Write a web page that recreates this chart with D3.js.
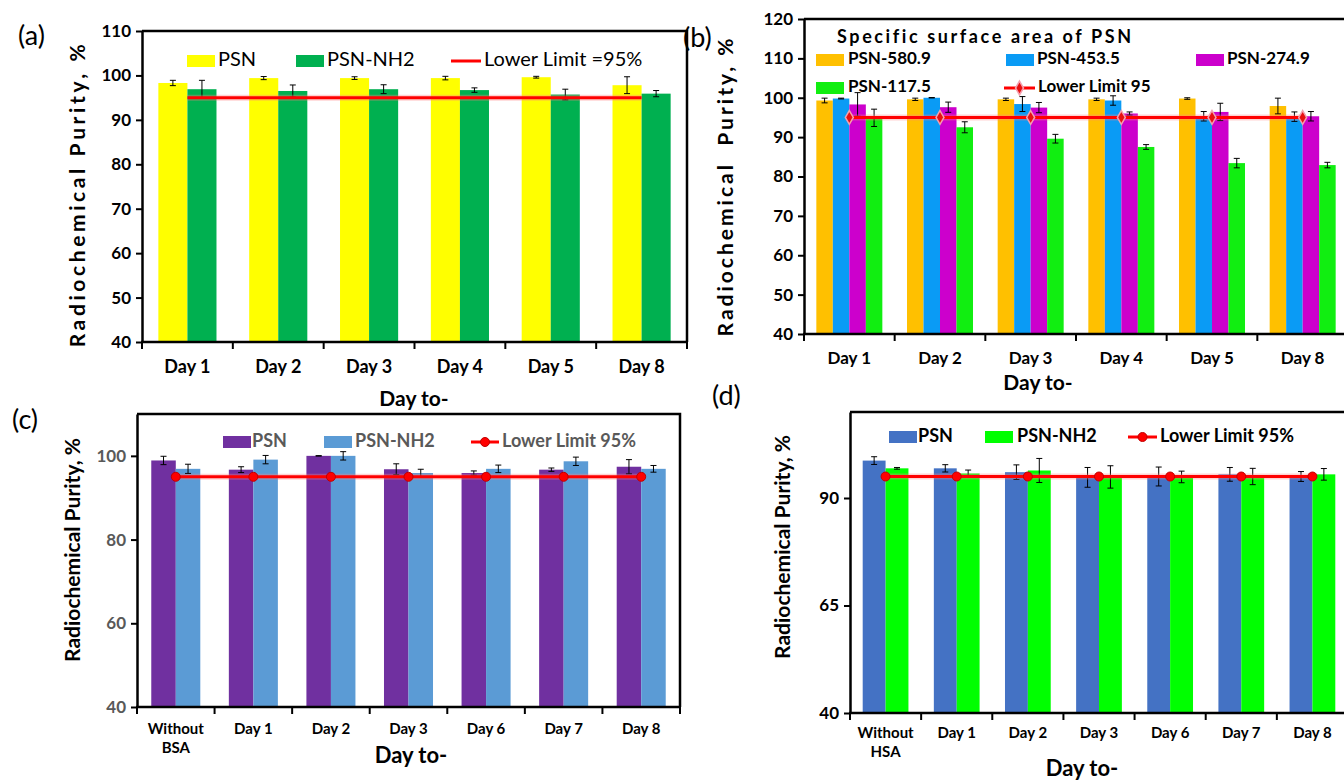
<!DOCTYPE html>
<html>
<head>
<meta charset="utf-8">
<script src="https://cdn.jsdelivr.net/npm/d3@7"></script>
<style>
body { margin: 0; background: #fff; }
text { font-family: Lato, 'Open Sans', sans-serif; }
</style>
</head>
<body>
<div id="chart"></div>
<script>
// ---- data ----
const daysA = ['Day 1', 'Day 2', 'Day 3', 'Day 4', 'Day 5', 'Day 8']
const psnA = [98.3, 99.4, 99.4, 99.4, 99.6, 97.8]
const psnAErr = [0.6, 0.35, 0.3, 0.4, 0.2, 1.9]
const nh2A = [96.9, 96.5, 96.9, 96.7, 95.7, 95.9]
const nh2AErr = [2.0, 1.35, 1.0, 0.5, 1.2, 0.7]

const daysB = ['Day 1', 'Day 2', 'Day 3', 'Day 4', 'Day 5', 'Day 8']
const psn580 = [99.3, 99.6, 99.6, 99.6, 99.8, 97.9]
const psn580Err = [0.6, 0.3, 0.3, 0.3, 0.2, 2.0]
const psn453 = [99.8, 100.0, 98.4, 99.3, 95.3, 95.2]
const psn453Err = [0.1, 0.05, 1.9, 1.2, 1.2, 1.2]
const psn274 = [98.3, 97.6, 97.5, 96.0, 96.4, 95.3]
const psn274Err = [3.0, 1.3, 1.3, 0.4, 2.2, 1.2]
const psn117 = [94.9, 92.5, 89.6, 87.5, 83.4, 82.9]
const psn117Err = [2.2, 1.4, 1.1, 0.6, 1.2, 0.7]

const catsC = ['Without BSA', 'Day 1', 'Day 2', 'Day 3', 'Day 6', 'Day 7', 'Day 8']
const psnC = [98.9, 96.7, 100.0, 96.8, 95.9, 96.7, 97.4]
const psnCErr = [1.0, 0.7, 0.05, 1.3, 0.5, 0.4, 1.7]
const nh2C = [96.9, 99.1, 100.0, 95.9, 96.9, 98.7, 96.9]
const nh2CErr = [1.1, 1.0, 1.0, 0.9, 0.9, 1.0, 0.8]

const catsD = ['Without HSA', 'Day 1', 'Day 2', 'Day 3', 'Day 6', 'Day 7', 'Day 8']
const psnD = [98.7, 96.9, 96.0, 94.8, 95.0, 95.5, 95.0]
const psnDErr = [0.9, 0.85, 1.7, 2.3, 2.2, 1.6, 1.15]
const nh2D = [96.9, 95.7, 96.4, 94.9, 94.9, 95.0, 95.5]
const nh2DErr = [0.2, 0.8, 2.8, 2.6, 1.35, 1.9, 1.35]

const lowerLimit = 95
const ticksA = [40, 50, 60, 70, 80, 90, 100, 110]
const ticksB = [40, 50, 60, 70, 80, 90, 100, 110, 120]
const ticksC = [40, 60, 80, 100]
const ticksD = [40, 65, 90]

let svg = d3.select('#chart').append('svg')
    .attr('width', 1344)
    .attr('height', 781)

let panels = [
    {
        letter: '(a)', letterPos: [18, 38],
        cats: daysA,
        series: [
            { name: 'PSN', values: psnA, err: psnAErr, color: '#FFFF00', leg: [187, 61, 218] },
            { name: 'PSN-NH2', values: nh2A, err: nh2AErr, color: '#00B050', leg: [296, 61, 327] }
        ],
        limitName: 'Lower Limit =95%', limitLeg: [451, 61, 484], marker: 'none',
        legendFont: { size: 20, weight: 'normal', color: '#000' },
        left: 142, right: 687, top: 31, bottom: 342, yDomain: [40, 110], yTicks: ticksA,
        groupRatio: 0.64, tickColor: '#000', tickSize: 17,
        xLabelY: 368, xLabelSize: 18, xLabelFont: 'Lato',
        yTitle: 'Radiochemical Purity, %', yTitlePos: [80, 194], yTitleSize: 21, yTitleSpacing: 3.6,
        xTitlePos: [414, 401], xTitleSize: 21
    },
    {
        letter: '(b)', letterPos: [683, 40],
        cats: daysB,
        series: [
            { name: 'PSN-580.9', values: psn580, err: psn580Err, color: '#FFC000', leg: [816, 60, 848] },
            { name: 'PSN-453.5', values: psn453, err: psn453Err, color: '#0A9BF5', leg: [1006, 60, 1037] },
            { name: 'PSN-274.9', values: psn274, err: psn274Err, color: '#CC00CC', leg: [1196, 60, 1227] },
            { name: 'PSN-117.5', values: psn117, err: psn117Err, color: '#11EE11', leg: [816, 88, 848] }
        ],
        limitName: 'Lower Limit 95', limitLeg: [1004, 88, 1038], marker: 'diamond',
        legendTitle: 'Specific surface area of PSN', legendTitlePos: [837, 38],
        legendFont: { size: 17, weight: 'bold', color: '#000' },
        left: 804, right: 1348, top: 19, bottom: 334, yDomain: [40, 120], yTicks: ticksB,
        groupRatio: 0.728, tickColor: '#000', tickSize: 17,
        xLabelY: 360, xLabelSize: 17, xLabelFont: 'Lato',
        yTitle: 'Radiochemical  Purity, %', yTitlePos: [728, 186], yTitleSize: 21, yTitleSpacing: 3,
        xTitlePos: [1038, 385], xTitleSize: 21
    },
    {
        letter: '(c)', letterPos: [12, 422],
        cats: catsC,
        series: [
            { name: 'PSN', values: psnC, err: psnCErr, color: '#7030A0', leg: [223, 442, 252] },
            { name: 'PSN-NH2', values: nh2C, err: nh2CErr, color: '#5B9BD5', leg: [324, 442, 355] }
        ],
        limitName: 'Lower Limit 95%', limitLeg: [471, 442, 502], marker: 'circle',
        legendFont: { size: 18, weight: 'bold', color: '#595959' },
        left: 137, right: 680, top: 414, bottom: 707, yDomain: [40, 110], yTicks: ticksC,
        groupRatio: 0.632, tickColor: '#595959', tickSize: 17,
        xLabelY: 730, xLabelSize: 15, xLabelFont: "'Liberation Sans Narrow', 'Arial Narrow', Lato",
        yTitle: 'Radiochemical Purity, %', yTitlePos: [75, 550], yTitleSize: 21, yTitleSpacing: 0,
        xTitlePos: [411, 757], xTitleSize: 22
    },
    {
        letter: '(d)', letterPos: [712, 398],
        cats: catsD,
        series: [
            { name: 'PSN', values: psnD, err: psnDErr, color: '#4472C4', leg: [889, 437, 918] },
            { name: 'PSN-NH2', values: nh2D, err: nh2DErr, color: '#00FF00', leg: [985, 437, 1017] }
        ],
        limitName: 'Lower Limit 95%', limitLeg: [1128, 437, 1160], marker: 'circle',
        legendFont: { size: 18, weight: 'bold', color: '#000' },
        left: 850, right: 1348, top: 412, bottom: 713, yDomain: [40, 110], yTicks: ticksD,
        groupRatio: 0.643, tickColor: '#000', tickSize: 17,
        xLabelY: 734, xLabelSize: 15, xLabelFont: "'Liberation Sans Narrow', 'Arial Narrow', Lato",
        yTitle: 'Radiochemical Purity, %', yTitlePos: [785, 547], yTitleSize: 21, yTitleSpacing: 0,
        xTitlePos: [1082, 770], xTitleSize: 22
    }
]

function drawMarker(g, type, cx, cy) {
    if (type == 'circle') {
        g.append('circle')
            .attr('cx', cx)
            .attr('cy', cy)
            .attr('r', 4.5)
            .attr('fill', '#FF0000')
            .attr('stroke', '#C00000')
            .attr('stroke-width', 1)
    } else if (type == 'diamond') {
        g.append('path')
            .attr('d', d3.symbol(d3.symbolDiamond, 55)())
            .attr('transform', `translate(${cx},${cy})`)
            .attr('fill', '#E81010')
            .attr('stroke', '#F4A0B0')
            .attr('stroke-width', 1.5)
    }
}

function drawPanel(p) {
    let g = svg.append('g')

    let x0 = d3.scaleBand()
        .domain(p.cats)
        .range([p.left, p.right])
    let bw = x0.bandwidth()
    let x1 = d3.scaleBand()
        .domain(p.series.map(s => s.name))
        .range([bw * (1 - p.groupRatio) / 2, bw * (1 + p.groupRatio) / 2])
    let y = d3.scaleLinear()
        .domain(p.yDomain)
        .range([p.bottom, p.top])

    // bars
    p.series.forEach(s => {
        g.selectAll(null)
            .data(p.cats.map((c, i) => ({ c, v: s.values[i], e: s.err[i] })))
            .enter()
            .append('rect')
                .attr('x', d => x0(d.c) + x1(s.name))
                .attr('width', x1.bandwidth())
                .attr('y', d => y(d.v))
                .attr('height', d => y(p.yDomain[0]) - y(d.v))
                .attr('fill', s.color)
    })

    // error bars
    p.series.forEach(s => {
        let eg = g.selectAll(null)
            .data(p.cats.map((c, i) => ({ c, v: s.values[i], e: s.err[i] })))
            .enter()
            .append('g')
                .attr('stroke', '#000')
                .attr('stroke-width', 1)
        let cx = d => x0(d.c) + x1(s.name) + x1.bandwidth() / 2
        eg.append('line')
            .attr('x1', cx).attr('x2', cx)
            .attr('y1', d => y(d.v + d.e)).attr('y2', d => y(d.v - d.e))
        eg.append('line')
            .attr('x1', d => cx(d) - 3).attr('x2', d => cx(d) + 3)
            .attr('y1', d => y(d.v + d.e)).attr('y2', d => y(d.v + d.e))
        eg.append('line')
            .attr('x1', d => cx(d) - 3).attr('x2', d => cx(d) + 3)
            .attr('y1', d => y(d.v - d.e)).attr('y2', d => y(d.v - d.e))
    })

    // lower limit line
    let limitData = p.cats.map(c => ({ c, v: lowerLimit }))
    let line = d3.line()
        .x(d => x0(d.c) + bw / 2)
        .y(d => y(d.v))
    g.append('path')
        .datum(limitData)
        .attr('d', line)
        .attr('fill', 'none')
        .attr('stroke', '#FF8080')
        .attr('stroke-opacity', 0.35)
        .attr('stroke-width', 6)
    g.append('path')
        .datum(limitData)
        .attr('d', line)
        .attr('fill', 'none')
        .attr('stroke', '#FF0000')
        .attr('stroke-width', 3)
    limitData.forEach(d => drawMarker(g, p.marker, x0(d.c) + bw / 2, y(d.v)))

    // frame (top and right)
    g.append('path')
        .attr('d', `M${p.left},${p.top}H${p.right}V${p.bottom}`)
        .attr('fill', 'none')
        .attr('stroke', '#000')
        .attr('stroke-width', 2.5)

    // y axis
    let yAxis = g.append('g')
        .attr('transform', `translate(${p.left},0)`)
        .call(d3.axisLeft(y).tickValues(p.yTicks).tickSize(6).tickSizeOuter(0).tickPadding(5))
    yAxis.select('.domain').attr('stroke-width', 2.5)
    yAxis.selectAll('.tick line').attr('stroke-width', 2)
    yAxis.selectAll('.tick text')
        .attr('font-family', 'Lato, sans-serif')
        .attr('font-weight', 'bold')
        .attr('font-size', p.tickSize)
        .attr('fill', p.tickColor)

    // x axis: line + boundary ticks + centred labels
    g.append('line')
        .attr('x1', p.left - 1).attr('x2', p.right)
        .attr('y1', p.bottom).attr('y2', p.bottom)
        .attr('stroke', '#000')
        .attr('stroke-width', 2.5)
    let bounds = p.cats.map(c => x0(c)).concat([p.right])
    g.selectAll(null)
        .data(bounds)
        .enter()
        .append('line')
            .attr('x1', d => d).attr('x2', d => d)
            .attr('y1', p.bottom).attr('y2', p.bottom + 7)
            .attr('stroke', '#000')
            .attr('stroke-width', 2)
    let labels = g.selectAll(null)
        .data(p.cats)
        .enter()
        .append('text')
            .attr('x', d => x0(d) + bw / 2)
            .attr('y', p.xLabelY)
            .attr('text-anchor', 'middle')
            .attr('dominant-baseline', 'middle')
            .attr('font-family', p.xLabelFont)
            .attr('font-weight', 'bold')
            .attr('font-size', p.xLabelSize)
            .attr('fill', '#000')
    labels.each(function (d) {
        let parts = d.startsWith('Without') ? d.split(' ') : [d]
        d3.select(this).selectAll('tspan')
            .data(parts)
            .enter()
            .append('tspan')
                .attr('x', x0(d) + bw / 2)
                .attr('dy', (t, i) => i == 0 ? 0 : 19)
                .text(t => t)
    })

    // legend
    let lf = p.legendFont
    p.series.forEach(s => {
        g.append('rect')
            .attr('x', s.leg[0])
            .attr('y', s.leg[1] - 6)
            .attr('width', 28)
            .attr('height', 12)
            .attr('fill', s.color)
        g.append('text')
            .attr('x', s.leg[2])
            .attr('y', s.leg[1])
            .attr('dominant-baseline', 'middle')
            .attr('font-size', lf.size)
            .attr('font-weight', lf.weight)
            .attr('fill', lf.color)
            .text(s.name)
    })
    g.append('line')
        .attr('x1', p.limitLeg[0]).attr('x2', p.limitLeg[2] - 3)
        .attr('y1', p.limitLeg[1]).attr('y2', p.limitLeg[1])
        .attr('stroke', '#FF0000')
        .attr('stroke-width', 3)
    drawMarker(g, p.marker, (p.limitLeg[0] + p.limitLeg[2] - 3) / 2, p.limitLeg[1])
    g.append('text')
        .attr('x', p.limitLeg[2])
        .attr('y', p.limitLeg[1])
        .attr('dominant-baseline', 'middle')
        .attr('font-size', lf.size)
        .attr('font-weight', lf.weight)
        .attr('fill', lf.color)
        .text(p.limitName)
    if (p.legendTitle) {
        g.append('text')
            .attr('x', p.legendTitlePos[0])
            .attr('y', p.legendTitlePos[1])
            .attr('dominant-baseline', 'middle')
            .attr('font-size', 18)
            .attr('font-weight', 'bold')
            .attr('letter-spacing', 2.6)
            .text(p.legendTitle)
    }

    // titles
    g.append('text')
        .attr('transform', `translate(${p.yTitlePos[0]},${p.yTitlePos[1]}) rotate(-90)`)
        .attr('text-anchor', 'middle')
        .attr('dominant-baseline', 'middle')
        .attr('font-size', p.yTitleSize)
        .attr('font-weight', 'bold')
        .attr('letter-spacing', p.yTitleSpacing)
        .style('white-space', 'pre')
        .text(p.yTitle)
    g.append('text')
        .attr('x', p.xTitlePos[0])
        .attr('y', p.xTitlePos[1])
        .attr('text-anchor', 'middle')
        .attr('dominant-baseline', 'middle')
        .attr('font-size', p.xTitleSize)
        .attr('font-weight', 'bold')
        .text('Day to-')
    g.append('text')
        .attr('x', p.letterPos[0])
        .attr('y', p.letterPos[1])
        .attr('dominant-baseline', 'middle')
        .attr('font-size', 27)
        .text(p.letter)
}

panels.forEach(drawPanel)
</script>
</body>
</html>
